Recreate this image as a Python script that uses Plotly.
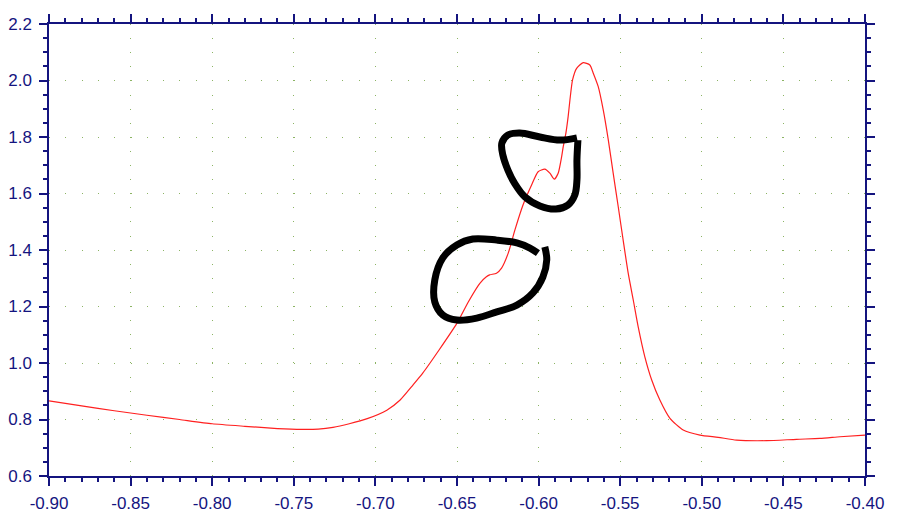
import plotly.graph_objects as go

# Main curve
curve_x = [-0.900, -0.880, -0.860, -0.840, -0.820, -0.800, -0.780, -0.760, -0.745, -0.735,
           -0.726, -0.716, -0.705, -0.693, -0.685, -0.677, -0.671, -0.661, -0.650, -0.643,
           -0.636, -0.632, -0.630, -0.6258, -0.6227, -0.6186, -0.6145, -0.6095, -0.6043, -0.6003,
           -0.5962, -0.5931, -0.5904, -0.5880, -0.5859, -0.5849, -0.5833, -0.5819, -0.5808, -0.5792,
           -0.5767, -0.5727, -0.5686, -0.5665, -0.5635, -0.5604, -0.5573, -0.5543, -0.5512, -0.5478,
           -0.5451, -0.5420, -0.5390, -0.5349, -0.5307, -0.5257, -0.5195, -0.5114, -0.5011, -0.4900,
           -0.4787, -0.4603, -0.4419, -0.4276, -0.4153, -0.400]
curve_y = [0.866, 0.848, 0.831, 0.815, 0.800, 0.785, 0.776, 0.768, 0.765, 0.766,
           0.772, 0.785, 0.803, 0.833, 0.868, 0.922, 0.964, 1.046, 1.141, 1.217,
           1.282, 1.305, 1.312, 1.318, 1.336, 1.389, 1.471, 1.560, 1.630, 1.677,
           1.686, 1.672, 1.651, 1.672, 1.730, 1.766, 1.813, 1.872, 1.931, 2.002,
           2.043, 2.063, 2.055, 2.026, 1.979, 1.896, 1.790, 1.672, 1.553, 1.420,
           1.318, 1.223, 1.129, 1.022, 0.940, 0.869, 0.804, 0.763, 0.745, 0.737,
           0.727, 0.725, 0.730, 0.733, 0.739, 0.745]

# Tick labels (hyphen-minus as in the original)
x_tick_vals = [-0.90, -0.85, -0.80, -0.75, -0.70, -0.65, -0.60, -0.55, -0.50, -0.45, -0.40]
x_tick_labels = ["-0.90", "-0.85", "-0.80", "-0.75", "-0.70", "-0.65", "-0.60", "-0.55",
                 "-0.50", "-0.45", "-0.40"]
y_tick_vals = [0.6, 0.8, 1.0, 1.2, 1.4, 1.6, 1.8, 2.0, 2.2]
y_tick_labels = ["0.6", "0.8", "1.0", "1.2", "1.4", "1.6", "1.8", "2.0", "2.2"]

# Hand-drawn marker loops (data units)
loop_upper_x = [-0.5765, -0.5870, -0.5992, -0.6115, -0.6188, -0.6225, -0.6219, -0.6188, -0.6145,
                -0.6084, -0.5992, -0.5894, -0.5821, -0.5778, -0.5765, -0.5765, -0.5759]
loop_upper_y = [1.797, 1.789, 1.800, 1.814, 1.807, 1.779, 1.736, 1.683, 1.634,
                1.588, 1.556, 1.545, 1.559, 1.595, 1.648, 1.719, 1.789]
loop_lower_x = [-0.6004, -0.6053, -0.6133, -0.6256, -0.6403, -0.6501, -0.6587, -0.6636, -0.6636,
                -0.6587, -0.6501, -0.6379, -0.6256, -0.6133, -0.6035, -0.5974, -0.5950, -0.5962]
loop_lower_y = [1.389, 1.407, 1.425, 1.435, 1.439, 1.418, 1.372, 1.294, 1.216,
                1.170, 1.152, 1.159, 1.181, 1.205, 1.248, 1.304, 1.365, 1.411]

axis_color = "#14147f"
grid_color = "rgb(140,180,100)"
font = dict(family="Liberation Sans, Arial, sans-serif", size=17, color=axis_color)

fig = go.Figure()
fig.add_trace(go.Scatter(x=curve_x, y=curve_y, mode="lines",
                         line=dict(color="#ff2020", width=1.2, shape="spline", smoothing=0.6),
                         showlegend=False, hoverinfo="skip"))
for lx, ly in [(loop_upper_x, loop_upper_y), (loop_lower_x, loop_lower_y)]:
    fig.add_trace(go.Scatter(x=lx, y=ly, mode="lines",
                             line=dict(color="black", width=7, shape="spline", smoothing=1.0),
                             showlegend=False, hoverinfo="skip"))

fig.update_layout(
    width=900, height=527,
    margin=dict(l=41, r=43, t=16, b=59, autoexpand=False),
    paper_bgcolor="white", plot_bgcolor="white",
    font=font,
    xaxis=dict(range=[-0.90, -0.40], tickmode="array", tickvals=x_tick_vals,
               ticktext=x_tick_labels, automargin=False,
               showline=True, linecolor=axis_color, linewidth=1.5, mirror="allticks",
               ticks="outside", ticklen=8, tickwidth=1.5, tickcolor=axis_color,
               showgrid=True, gridcolor=grid_color, gridwidth=1, griddash="1px,13.1px",
               zeroline=False, tickfont=font, ticklabelstandoff=3,
               minor=dict(tick0=-0.90, dtick=0.01, ticks="outside", ticklen=4, tickwidth=1.5,
                          tickcolor=axis_color, showgrid=False)),
    yaxis=dict(range=[0.6, 2.2], tickmode="array", tickvals=y_tick_vals,
               ticktext=y_tick_labels, automargin=False,
               showline=True, linecolor=axis_color, linewidth=1.5, mirror="allticks",
               ticks="outside", ticklen=8, tickwidth=1.5, tickcolor=axis_color,
               showgrid=True, gridcolor=grid_color, gridwidth=1, griddash="1px,15.3px",
               zeroline=False, tickfont=font, ticklabelstandoff=4,
               minor=dict(tick0=0.6, dtick=0.05, ticks="outside", ticklen=4, tickwidth=1.5,
                          tickcolor=axis_color, showgrid=False)),
)

fig.write_html("out.html")
